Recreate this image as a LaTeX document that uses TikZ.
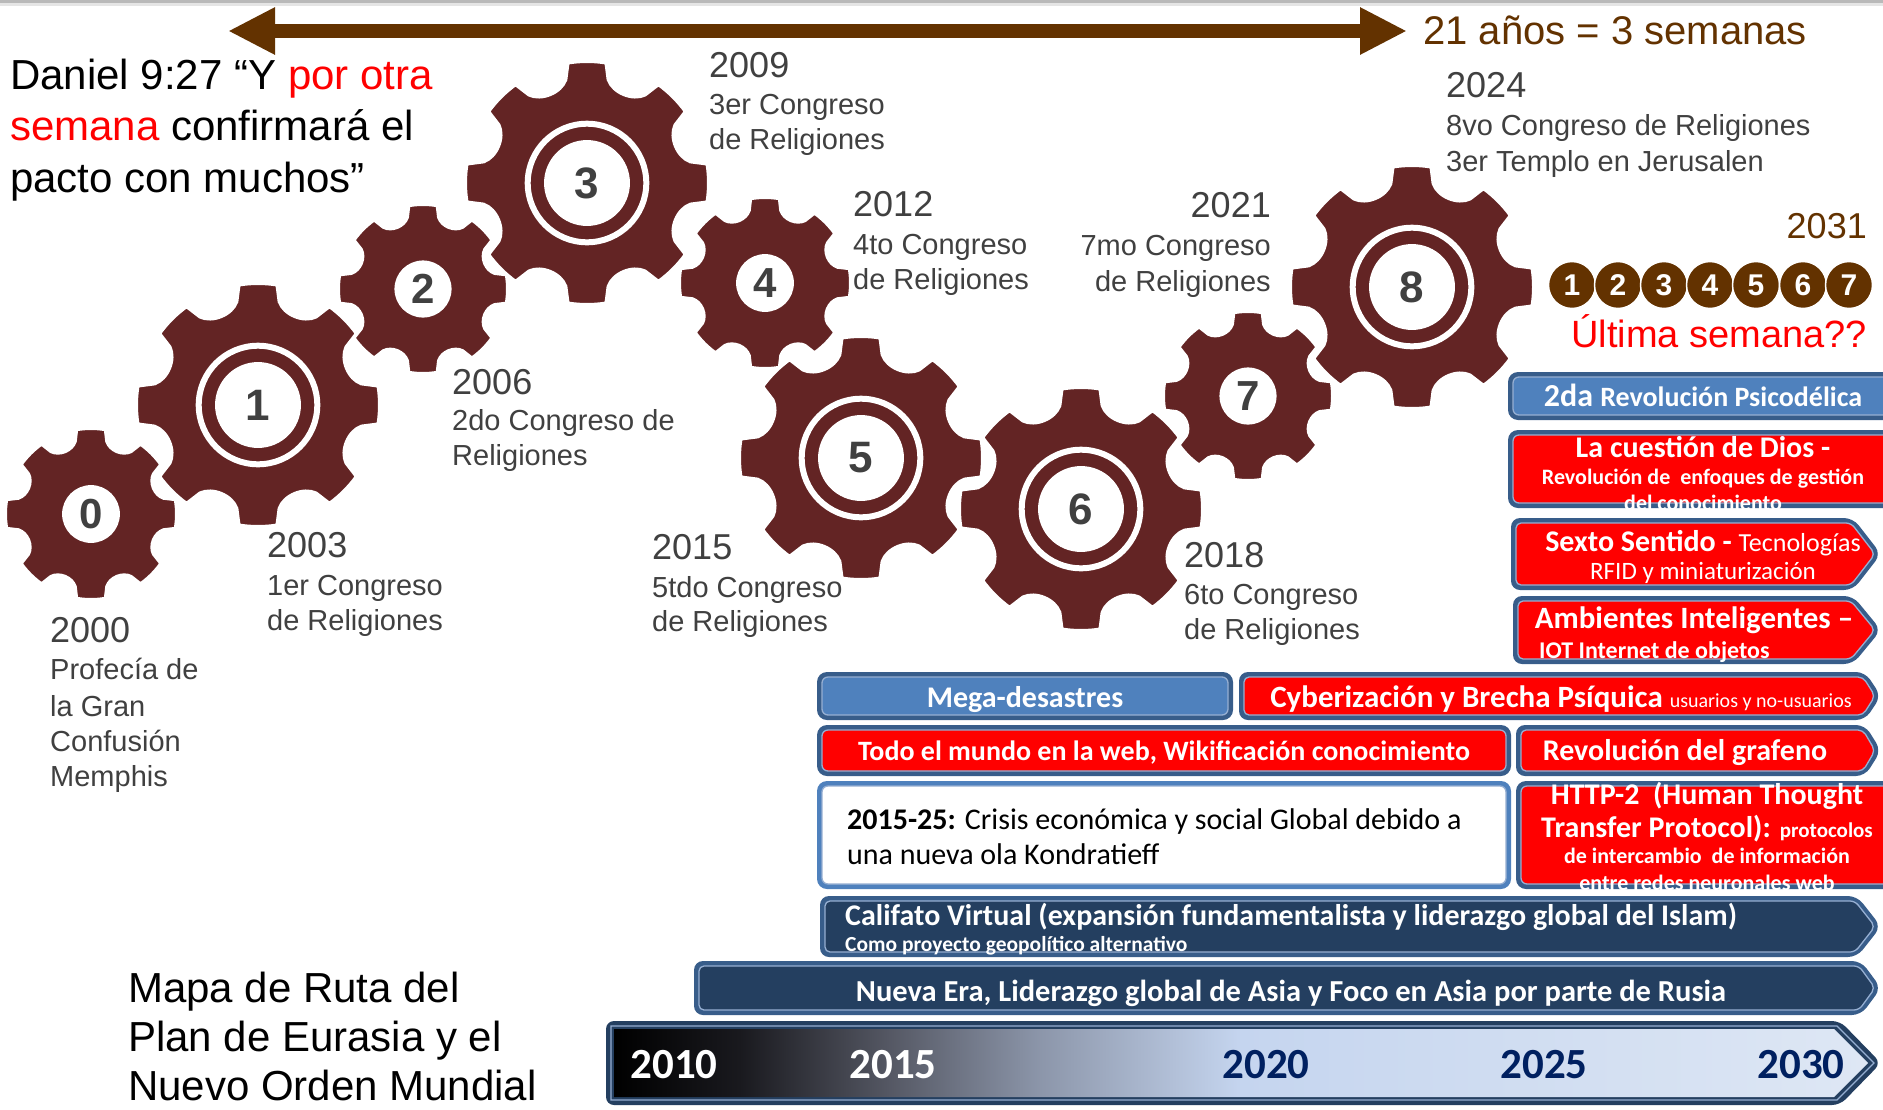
\documentclass[tikz,border=0pt]{standalone}
\usepackage{fontspec}
\setmainfont{Liberation Sans}
\newfontfamily\calib{Carlito}
\usetikzlibrary{arrows.meta}
\definecolor{gearc}{RGB}{99,36,36}
\definecolor{brownc}{RGB}{99,50,0}
\definecolor{labgray}{RGB}{64,64,64}
\definecolor{numgray}{RGB}{64,64,64}
\definecolor{redc}{RGB}{255,0,0}
\definecolor{frameblue}{RGB}{56,93,138}
\definecolor{boxblue}{RGB}{79,129,189}
\definecolor{navyc}{RGB}{36,63,96}
\definecolor{yrnavy}{RGB}{0,32,96}
\definecolor{lightline}{RGB}{150,175,210}
\definecolor{tlA}{RGB}{25,25,30}
\definecolor{tlB}{RGB}{85,88,100}
\definecolor{tlC}{RGB}{140,150,170}
\definecolor{tlD}{RGB}{197,213,239}
\definecolor{tlE}{RGB}{222,231,244}
\pgfdeclarehorizontalshading{tlshade}{100bp}{color(0bp)=(black); color(25bp)=(black); color(30bp)=(tlA); color(36bp)=(tlB); color(42bp)=(tlC); color(50bp)=(tlD); color(75bp)=(tlE); color(100bp)=(tlE)}

% gear: name, x, y, R, half angle of tooth tip
\newcommand\gearbody[5]{%
  \begin{scope}[shift={(#2,#3)}]
    \filldraw[fill=gearc, draw=white, line width=2pt] (-#5:#4)
      \foreach \t in {0,45,...,315}{
        arc[start angle=\t-#5, end angle=\t+#5, radius=#4]
        -- (\t+#5+2.5:0.87*#4) .. controls (\t+#5+7:0.77*#4) and (\t+38-#5:0.77*#4) .. (\t+42.5-#5:0.87*#4)
        -- (\t+45-#5:#4)} -- cycle;
    \coordinate (#1) at (0,0);
  \end{scope}}
\newcommand\smallgear[4]{\gearbody{#1}{#2}{#3}{#4}{9.4}\fill[white] (#1) circle (0.34*#4);}
\newcommand\biggear[4]{\gearbody{#1}{#2}{#3}{#4}{8.8}%
  \draw[white, line width=6pt] (#1) circle (0.49*#4);\fill[white] (#1) circle (0.355*#4);}

% rectangular box: x1 y1 x2 y2 frame fill
\newcommand\recbox[6]{%
  \fill[#5, rounded corners=10pt] (#1,#2) rectangle (#3,#4);
  \filldraw[fill=#6, draw=lightline, line width=1.3pt, rounded corners=6pt] (#1+5,#2+5) rectangle (#3-5,#4-5);}
% arrow box: x1 y1 x2 y2 depth frame fill
\newcommand\arrbox[7]{%
  \fill[#6, rounded corners=9pt] (#1,#2) -- (#3-#5,#2) -- (#3,#2/2+#4/2) -- (#3-#5,#4) -- (#1,#4) -- cycle;
  \filldraw[fill=#7, draw=lightline, line width=1.3pt, rounded corners=5pt] (#1+5,#2+5) -- (#3-#5-2,#2+5) -- (#3-6,#2/2+#4/2) -- (#3-#5-2,#4-5) -- (#1+5,#4-5) -- cycle;}

\begin{document}
\begin{tikzpicture}[x=1pt,y=-1pt,
  lbl/.style={anchor=base west, inner sep=0pt, text=labgray, font=\fontsize{29}{35}\selectfont},
  lblr/.style={lbl, anchor=base east},
  yr/.style={anchor=base west, inner sep=0pt, text=labgray, font=\fontsize{36}{40}\selectfont},
  yrr/.style={yr, anchor=base east},
  dan/.style={anchor=base west, inner sep=0pt, text=black, font=\fontsize{42}{50}\selectfont},
  gnum/.style={inner sep=0pt, text=numgray, font=\fontsize{42}{42}\selectfont\bfseries},
  gnumb/.style={gnum, font=\fontsize{44}{44}\selectfont\bfseries},
  wk/.style={circle, fill=brownc, draw=white, line width=1.5pt, minimum size=47pt, inner sep=0pt, text=white, font=\fontsize{30}{30}\selectfont\bfseries},
  bt/.style={anchor=base, inner sep=0pt, text=white, font=\calib\bfseries\fontsize{30}{32}\selectfont},
  bs/.style={bt, font=\calib\bfseries\fontsize{22}{24}\selectfont},
  btl/.style={bt, anchor=base west},
  tly/.style={anchor=base, inner sep=0pt, font=\calib\bfseries\fontsize{43}{44}\selectfont}
]
\useasboundingbox (0,0) rectangle (1883,1109);
\fill[white] (0,0) rectangle (1883,1109);
\fill[gray!55] (0,0) rectangle (1883,3);
\fill[gray!20] (0,3) rectangle (1883,6);

% top double arrow
\coordinate (arL) at (228,31);
\coordinate (arR) at (1407,31);
\draw[brownc, line width=14pt, {Triangle[length=47pt,width=44pt]}-{Triangle[length=47pt,width=44pt]}] (arL) -- (arR);
\node[anchor=base west, inner sep=0pt, text=brownc, font=\fontsize{40}{44}\selectfont] (sem) at (1423,44) {21 años = 3 semanas};

% Daniel
\node[dan] (dan1) at (10,89) {Daniel 9:27 “Y \textcolor{redc}{por otra}};
\node[dan] (dan2) at (10,140) {\textcolor{redc}{semana} confirmará el};
\node[dan] (dan3) at (10,192) {pacto con muchos”};

% gears
\smallgear{g0}{91}{514}{85}
\biggear{g1}{258}{405}{121}
\smallgear{g2}{423}{289}{84}
\biggear{g3}{587}{183}{121}
\smallgear{g4}{765}{283}{85}
\biggear{g5}{861}{458}{121}
\biggear{g6}{1081}{509}{121}
\smallgear{g7}{1248}{396}{84}
\biggear{g8}{1412}{287}{121}
\node[gnum] (n0) at (g0) {0};
\node[gnumb] (n1) at (g1) {1};
\node[gnum] (n2) at (g2) {2};
\node[gnumb] (n3) at (g3) {3};
\node[gnum] (n4) at (g4) {4};
\node[gnumb] (n5) at (g5) {5};
\node[gnumb] (n6) at (g6) {6};
\node[gnum] (n7) at (g7) {7};
\node[gnumb] (n8) at (g8) {8};

% labels
\node[yr] (y2000) at (50,642) {2000};
\node[lbl] (l2000a) at (50,679) {Profecía de};
\node[lbl] (l2000b) at (50,716) {la Gran};
\node[lbl] (l2000c) at (50,751) {Confusión};
\node[lbl] (l2000d) at (50,786) {Memphis};

\node[yr] (y2003) at (267,557) {2003};
\node[lbl] (l2003a) at (267,595) {1er Congreso};
\node[lbl] (l2003b) at (267,630) {de Religiones};

\node[yr] (y2006) at (452,394) {2006};
\node[lbl] (l2006a) at (452,430) {2do Congreso de};
\node[lbl] (l2006b) at (452,465) {Religiones};

\node[yr] (y2009) at (709,77) {2009};
\node[lbl] (l2009a) at (709,114) {3er Congreso};
\node[lbl] (l2009b) at (709,149) {de Religiones};

\node[yr] (y2012) at (853,216) {2012};
\node[lbl] (l2012a) at (853,254) {4to Congreso};
\node[lbl] (l2012b) at (853,289) {de Religiones};

\node[yr] (y2015) at (652,559) {2015};
\node[lbl] (l2015a) at (652,597) {5tdo Congreso};
\node[lbl] (l2015b) at (652,631) {de Religiones};

\node[yr] (y2018) at (1184,567) {2018};
\node[lbl] (l2018a) at (1184,604) {6to Congreso};
\node[lbl] (l2018b) at (1184,639) {de Religiones};

\node[yrr] (y2021) at (1271,217) {2021};
\node[lblr] (l2021a) at (1271,255) {7mo Congreso};
\node[lblr] (l2021b) at (1271,291) {de Religiones};

\node[yr] (y2024) at (1446,97) {2024};
\node[lbl] (l2024a) at (1446,135) {8vo Congreso de Religiones};
\node[lbl] (l2024b) at (1446,171) {3er Templo en Jerusalen};

\node[yrr, text=brownc] (y2031) at (1867,238) {2031};
\node[wk] (w1) at (1572,285) {1};
\node[wk] (w2) at (1618,285) {2};
\node[wk] (w3) at (1664,285) {3};
\node[wk] (w4) at (1710,285) {4};
\node[wk] (w5) at (1756,285) {5};
\node[wk] (w6) at (1803,285) {6};
\node[wk] (w7) at (1849,285) {7};
\node[anchor=base east, inner sep=0pt, text=redc, font=\fontsize{38}{42}\selectfont] (ult) at (1867,347) {Última semana??};

% right column boxes
\recbox{1508}{372}{1895}{420}{frameblue}{boxblue}
\node[bt] (tA) at (1703,406) {\fontsize{32}{34}\selectfont 2da \fontsize{28}{30}\selectfont Revolución Psicodélica};

\recbox{1508}{430}{1895}{508}{frameblue}{redc}
\node[bt] (tB1) at (1703,457) {La cuestión de Dios -};
\node[bs] (tB2) at (1703,484) {Revolución de\ \ enfoques de gestión};
\node[bs] (tB3) at (1703,510) {del conocimiento};

\arrbox{1511}{518}{1881}{590}{28}{frameblue}{redc}
\node[bt] (tC1) at (1703,551) {Sexto Sentido - {\mdseries\fontsize{26}{28}\selectfont Tecnologías}};
\node[bt, font=\calib\fontsize{25}{27}\selectfont] (tC2) at (1703,579) {RFID y miniaturización};

\arrbox{1513}{596}{1881}{664}{28}{frameblue}{redc}
\node[bt, font=\calib\bfseries\fontsize{31}{33}\selectfont] (tD1) at (1694,628) {Ambientes Inteligentes –};
\node[bs, anchor=base west, font=\calib\bfseries\fontsize{24}{26}\selectfont] (tD2) at (1539,658) {IOT Internet de objetos};

% middle rows
\recbox{817}{672}{1233}{720}{frameblue}{boxblue}
\node[bt] (tMega) at (1025,707) {Mega-desastres};
\arrbox{1239}{672}{1881}{720}{16}{frameblue}{redc}
\node[bt, font=\calib\bfseries\fontsize{31}{33}\selectfont] (tCyb) at (1561,707) {Cyberización y Brecha Psíquica {\mdseries\fontsize{20}{22}\selectfont usuarios y no-usuarios}};

\recbox{817}{725}{1511}{776}{frameblue}{redc}
\node[bt, font=\calib\bfseries\fontsize{28}{30}\selectfont] (tTodo) at (1164,760) {Todo el mundo en la web, Wikificación conocimiento};
\arrbox{1516}{725}{1881}{776}{16}{frameblue}{redc}
\node[bt] (tGraf) at (1685,760) {Revolución del grafeno};

\recbox{817}{781}{1511}{889}{boxblue}{white}
\node[btl, text=black, font=\calib\fontsize{30}{32}\selectfont] (tCr1) at (847,829) {\textbf{2015-25:} Crisis económica y social Global debido a};
\node[btl, text=black, font=\calib\fontsize{30}{32}\selectfont] (tCr2) at (847,864) {una nueva ola Kondratieff};

\recbox{1516}{781}{1895}{889}{frameblue}{redc}
\node[bt] (tH1) at (1707,804) {HTTP-2\ \ (Human Thought};
\node[bt] (tH2) at (1707,837) {Transfer Protocol): {\fontsize{21}{22}\selectfont protocolos}};
\node[bs] (tH3) at (1707,863) {de intercambio\ \ de información};
\node[bs] (tH4) at (1707,890) {entre redes neuronales web};

\arrbox{820}{896}{1881}{957}{24}{frameblue}{navyc}
\node[btl] (tCal1) at (845,925) {Califato Virtual (expansión fundamentalista y liderazgo global del Islam)};
\node[btl, font=\calib\bfseries\fontsize{21.5}{23}\selectfont] (tCal2) at (845,951) {Como proyecto geopolítico alternativo};

\arrbox{694}{961}{1881}{1015}{20}{frameblue}{navyc}
\node[bt, font=\calib\bfseries\fontsize{30.5}{32}\selectfont] (tNue) at (1291,1001) {Nueva Era, Liderazgo global de Asia y Foco en Asia por parte de Rusia};

% timeline
\fill[navyc, rounded corners=8pt] (606,1021) -- (1840,1021) -- (1881,1063) -- (1840,1105) -- (606,1105) -- cycle;
\draw[lightline, line width=1.3pt] (611,1026) -- (1837,1026) -- (1874,1063) -- (1837,1100) -- (611,1100) -- cycle;
\shade[shading=tlshade] (614,1029) -- (1834,1029) -- (1868,1063) -- (1834,1097) -- (614,1097) -- cycle;
\node[tly, text=white] (t2010) at (674,1078) {2010};
\node[tly, text=white] (t2015) at (893,1078) {2015};
\node[tly, text=yrnavy] (t2020) at (1266,1078) {2020};
\node[tly, text=yrnavy] (t2025) at (1544,1078) {2025};
\node[tly, text=yrnavy] (t2030) at (1801,1078) {2030};

% bottom-left title
\node[dan] (m1) at (128,1002) {Mapa de Ruta del};
\node[dan] (m2) at (128,1051) {Plan de Eurasia y el};
\node[dan] (m3) at (128,1100) {Nuevo Orden Mundial};
\end{tikzpicture}
\end{document}
